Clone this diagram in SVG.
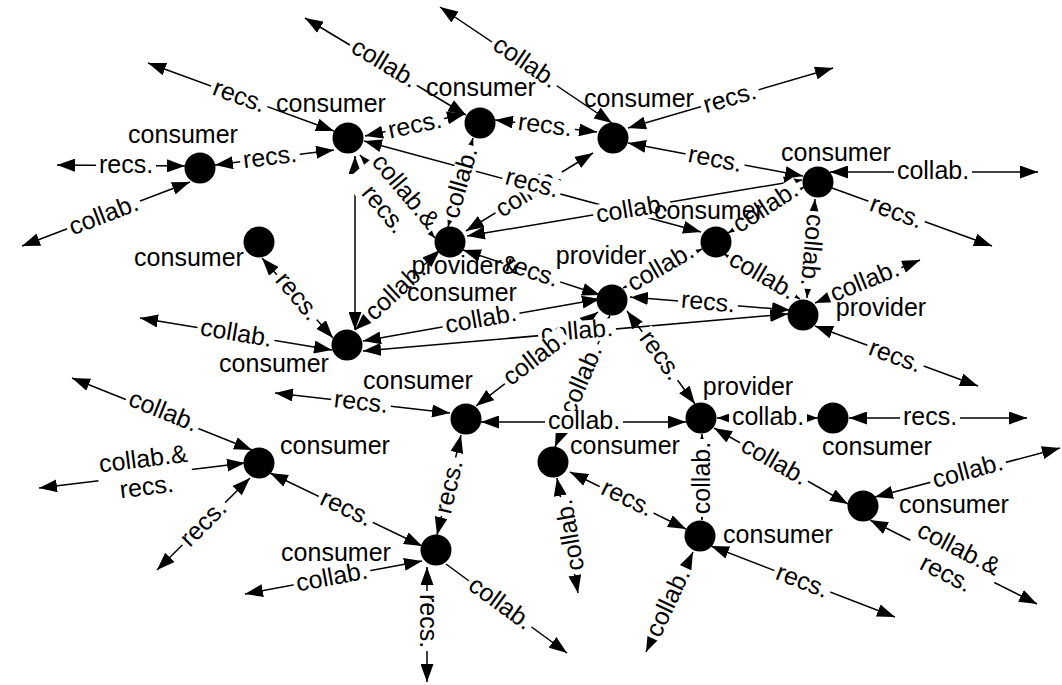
<svg xmlns="http://www.w3.org/2000/svg" xmlns:xlink="http://www.w3.org/1999/xlink" width="1062" height="685" viewBox="0 0 1062 685">
  <style>
    text { font-family: "Liberation Sans", Arial, sans-serif; font-size: 25px; fill: #000; }
    .lbl text { text-anchor: middle; }
    .node text { text-anchor: middle; }
    .node circle { fill: #000; }
    .e { stroke: #000; stroke-width: 1.5; fill: none; }
    .b { marker-start: url(#as); marker-end: url(#ae); }
    .s { marker-end: url(#ae); }
  </style>
  <defs>
    <marker id="ae" viewBox="0 0 18 13" refX="18" refY="6.5" markerWidth="18" markerHeight="13" markerUnits="userSpaceOnUse" orient="auto">
      <path d="M0,0 L18,6.5 L0,13 Z" fill="#000"/>
    </marker>
    <marker id="as" viewBox="0 0 18 13" refX="18" refY="6.5" markerWidth="18" markerHeight="13" markerUnits="userSpaceOnUse" orient="auto-start-reverse">
      <path d="M0,0 L18,6.5 L0,13 Z" fill="#000"/>
    </marker>
    <!-- white label backgrounds -->
    <rect id="br" x="-30" y="-11" width="60" height="22" fill="#fff"/>
    <rect id="bc" x="-39" y="-11" width="78" height="22" fill="#fff"/>
    <rect id="b2" x="-47" y="-26" width="94" height="52" fill="#fff"/>
  </defs>
  <rect width="1062" height="685" fill="#fff"/>

  <g id="connectors">
    <g id="edge-lines">
      <line class="e b" x1="57" y1="165" x2="185" y2="166"/>
      <line class="e b" x1="22" y1="246" x2="190" y2="182"/>
      <line class="e b" x1="215" y1="165" x2="334" y2="150"/>
      <line class="e b" x1="148" y1="63" x2="334" y2="131"/>
      <line class="e b" x1="365" y1="136" x2="465" y2="114"/>
      <line class="e b" x1="364" y1="141" x2="701" y2="232"/>
      <line class="e b" x1="355" y1="156" x2="355" y2="330"/>
      <line class="e b" x1="360" y1="155" x2="435" y2="238"/>
      <line class="e b" x1="305" y1="18" x2="466" y2="115"/>
      <line class="e b" x1="495" y1="120" x2="597" y2="132"/>
      <line class="e b" x1="448" y1="227" x2="473" y2="138"/>
      <line class="e b" x1="440" y1="7" x2="612" y2="123"/>
      <line class="e b" x1="628" y1="128" x2="833" y2="68"/>
      <line class="e b" x1="628" y1="143" x2="803" y2="176"/>
      <line class="e b" x1="466" y1="231" x2="593" y2="153"/>
      <line class="e b" x1="467" y1="236" x2="802" y2="180"/>
      <line class="e b" x1="830" y1="172" x2="1038" y2="172"/>
      <line class="e s" x1="832" y1="188" x2="992" y2="246"/>
      <line class="e b" x1="815" y1="199" x2="807" y2="298"/>
      <line class="e b" x1="728" y1="233" x2="804" y2="187"/>
      <line class="e b" x1="262" y1="258" x2="333" y2="338"/>
      <line class="e b" x1="463" y1="250" x2="600" y2="295"/>
      <line class="e b" x1="355" y1="330" x2="440" y2="250"/>
      <line class="e b" x1="623" y1="288" x2="702" y2="249"/>
      <line class="e b" x1="724" y1="254" x2="800" y2="299"/>
      <line class="e b" x1="630" y1="297" x2="790" y2="310"/>
      <line class="e b" x1="363" y1="341" x2="600" y2="299"/>
      <line class="e b" x1="363" y1="351" x2="788" y2="314"/>
      <line class="e b" x1="476" y1="406" x2="598" y2="312"/>
      <line class="e b" x1="555" y1="447" x2="610" y2="315"/>
      <line class="e b" x1="627" y1="311" x2="695" y2="404"/>
      <line class="e b" x1="815" y1="303" x2="920" y2="260"/>
      <line class="e b" x1="815" y1="326" x2="978" y2="386"/>
      <line class="e b" x1="140" y1="318" x2="332" y2="350"/>
      <line class="e b" x1="275" y1="393" x2="450" y2="413"/>
      <line class="e b" x1="481" y1="422" x2="686" y2="422"/>
      <line class="e b" x1="437" y1="535" x2="461" y2="435"/>
      <line class="e b" x1="717" y1="418" x2="818" y2="418"/>
      <line class="e b" x1="714" y1="428" x2="848" y2="504"/>
      <line class="e b" x1="702" y1="434" x2="702" y2="520"/>
      <line class="e b" x1="849" y1="418" x2="1027" y2="418"/>
      <line class="e b" x1="72" y1="378" x2="252" y2="450"/>
      <line class="e b" x1="39" y1="488" x2="245" y2="463"/>
      <line class="e b" x1="157" y1="570" x2="250" y2="478"/>
      <line class="e b" x1="270" y1="473" x2="422" y2="546"/>
      <line class="e b" x1="557" y1="478" x2="578" y2="593"/>
      <line class="e b" x1="570" y1="472" x2="686" y2="529"/>
      <line class="e b" x1="875" y1="497" x2="1060" y2="448"/>
      <line class="e b" x1="870" y1="520" x2="1037" y2="604"/>
      <line class="e b" x1="245" y1="594" x2="422" y2="561"/>
      <line class="e b" x1="427" y1="567" x2="427" y2="682"/>
      <line class="e s" x1="446" y1="564" x2="567" y2="653"/>
      <line class="e b" x1="646" y1="652" x2="693" y2="552"/>
      <line class="e b" x1="711" y1="546" x2="895" y2="617"/>
    </g>
    <g id="edge-labels" class="lbl">
      <g transform="translate(126,166)"><use href="#br"/><text y="7">recs.</text></g>
      <g transform="translate(104,216) rotate(-21)"><use href="#bc"/><text y="7">collab.</text></g>
      <g transform="translate(270,158) rotate(-7)"><use href="#br"/><text y="7">recs.</text></g>
      <g transform="translate(239,97) rotate(20)"><use href="#br"/><text y="7">recs.</text></g>
      <g transform="translate(415,126) rotate(-12)"><use href="#br"/><text y="7">recs.</text></g>
      <g transform="translate(394,201) rotate(50)"><use href="#b2"/><text y="-7">collab.&amp;</text><text y="21">recs.</text></g>
      <g transform="translate(384,64) rotate(31)"><use href="#bc"/><text y="7">collab.</text></g>
      <g transform="translate(545,126) rotate(7)"><use href="#br"/><text y="7">recs.</text></g>
      <g transform="translate(461,183) rotate(-74)"><use href="#bc"/><text y="7">collab.</text></g>
      <g transform="translate(525,63) rotate(34)"><use href="#bc"/><text y="7">collab.</text></g>
      <g transform="translate(730,99) rotate(-16)"><use href="#br"/><text y="7">recs.</text></g>
      <g transform="translate(715,160) rotate(11)"><use href="#br"/><text y="7">recs.</text></g>
      <g transform="translate(529,193) rotate(-32)"><use href="#bc"/><text y="7">collab.</text></g>
      <g transform="translate(532,184) rotate(15)"><use href="#br"/><text y="7">recs.</text></g>
      <g transform="translate(632,210) rotate(-9.5)"><use href="#bc"/><text y="7">collab.</text></g>
      <g transform="translate(933,172)"><use href="#bc"/><text y="7">collab.</text></g>
      <g transform="translate(896,213) rotate(20)"><use href="#br"/><text y="7">recs.</text></g>
      <g transform="translate(811,250) rotate(95)"><use href="#bc"/><text y="7">collab.</text></g>
      <g transform="translate(766,208) rotate(-33)"><use href="#bc"/><text y="7">collab.</text></g>
      <g transform="translate(297,297) rotate(50)"><use href="#br"/><text y="7">recs.</text></g>
      <g transform="translate(532,272) rotate(18)"><use href="#br"/><text y="7">recs.</text></g>
      <g transform="translate(396,292) rotate(-43)"><use href="#bc"/><text y="7">collab.</text></g>
      <g transform="translate(661,268) rotate(-30)"><use href="#bc"/><text y="7">collab.</text></g>
      <g transform="translate(762,276) rotate(30)"><use href="#bc"/><text y="7">collab.</text></g>
      <g transform="translate(708,303) rotate(5)"><use href="#br"/><text y="7">recs.</text></g>
      <g transform="translate(481,320) rotate(-10)"><use href="#bc"/><text y="7">collab.</text></g>
      <g transform="translate(577,332) rotate(-5)"><use href="#bc"/><text y="7">collab.</text></g>
      <g transform="translate(582,380) rotate(-67)"><use href="#bc"/><text y="7">collab.</text></g>
      <g transform="translate(535,359) rotate(-37.6)"><use href="#bc"/><text y="7">collab.</text></g>
      <g transform="translate(660,356) rotate(54)"><use href="#br"/><text y="7">recs.</text></g>
      <g transform="translate(865,282) rotate(-22)"><use href="#bc"/><text y="7">collab.</text></g>
      <g transform="translate(895,357) rotate(20)"><use href="#br"/><text y="7">recs.</text></g>
      <g transform="translate(236,334) rotate(9.5)"><use href="#bc"/><text y="7">collab.</text></g>
      <g transform="translate(361,403) rotate(6.5)"><use href="#br"/><text y="7">recs.</text></g>
      <g transform="translate(584,422)"><use href="#bc"/><text y="7">collab.</text></g>
      <g transform="translate(450,487) rotate(-77)"><use href="#br"/><text y="7">recs.</text></g>
      <g transform="translate(768,418)"><use href="#bc"/><text y="7">collab.</text></g>
      <g transform="translate(774,462) rotate(29.6)"><use href="#bc"/><text y="7">collab.</text></g>
      <g transform="translate(703,478) rotate(-90)"><use href="#bc"/><text y="7">collab.</text></g>
      <g transform="translate(930,418)"><use href="#br"/><text y="7">recs.</text></g>
      <g transform="translate(163,412) rotate(22)"><use href="#bc"/><text y="7">collab.</text></g>
      <g transform="translate(145,474) rotate(-7)"><use href="#b2"/><text y="-7">collab.&amp;</text><text y="21">recs.</text></g>
      <g transform="translate(204,524) rotate(-45)"><use href="#br"/><text y="7">recs.</text></g>
      <g transform="translate(346,509) rotate(25.5)"><use href="#br"/><text y="7">recs.</text></g>
      <g transform="translate(571,535) rotate(-100)"><use href="#bc"/><text y="7">collab.</text></g>
      <g transform="translate(627,499) rotate(26)"><use href="#br"/><text y="7">recs.</text></g>
      <g transform="translate(968,472) rotate(-15)"><use href="#bc"/><text y="7">collab.</text></g>
      <g transform="translate(952,562) rotate(27)"><use href="#b2"/><text y="-7">collab.&amp;</text><text y="21">recs.</text></g>
      <g transform="translate(332,578) rotate(-10.6)"><use href="#bc"/><text y="7">collab.</text></g>
      <g transform="translate(427,621) rotate(90)"><use href="#br"/><text y="7">recs.</text></g>
      <g transform="translate(500,604) rotate(36)"><use href="#bc"/><text y="7">collab.</text></g>
      <g transform="translate(669,603) rotate(-65)"><use href="#bc"/><text y="7">collab.</text></g>
      <g transform="translate(802,582) rotate(21)"><use href="#br"/><text y="7">recs.</text></g>
    </g>
  </g>

  <g id="nodes">
    <g id="n1" class="node"><circle cx="200" cy="168" r="15.5"/><text x="183" y="143">consumer</text></g>
    <g id="n2" class="node"><circle cx="348" cy="138" r="15.5"/><text x="331" y="112">consumer</text></g>
    <g id="n3" class="node"><circle cx="480" cy="123" r="15.5"/><text x="481" y="96">consumer</text></g>
    <g id="n4" class="node"><circle cx="613" cy="138" r="15.5"/><text x="639" y="107">consumer</text></g>
    <g id="n5" class="node"><circle cx="818" cy="182" r="15.5"/><text x="836" y="161">consumer</text></g>
    <g id="n6" class="node"><circle cx="259" cy="242" r="15.5"/><text x="189" y="266">consumer</text></g>
    <g id="n7" class="node"><circle cx="450" cy="242" r="15.5"/><text x="465" y="274">provider&amp;</text><text x="462" y="301">consumer</text></g>
    <g id="n8" class="node"><circle cx="716" cy="242" r="15.5"/><text x="709" y="219">consumer</text></g>
    <g id="n9" class="node"><circle cx="612" cy="300" r="15.5"/><text x="601" y="264">provider</text></g>
    <g id="n10" class="node"><circle cx="803" cy="315" r="15.5"/><text x="881" y="316">provider</text></g>
    <g id="n11" class="node"><circle cx="347" cy="345" r="15.5"/><text x="274" y="372">consumer</text></g>
    <g id="n12" class="node"><circle cx="466" cy="419" r="15.5"/><text x="418" y="389">consumer</text></g>
    <g id="n13" class="node"><circle cx="701" cy="418" r="15.5"/><text x="748" y="395">provider</text></g>
    <g id="n14" class="node"><circle cx="833" cy="418" r="15.5"/><text x="877" y="455">consumer</text></g>
    <g id="n15" class="node"><circle cx="259" cy="463" r="15.5"/><text x="335" y="454">consumer</text></g>
    <g id="n16" class="node"><circle cx="553" cy="462" r="15.5"/><text x="625" y="454">consumer</text></g>
    <g id="n17" class="node"><circle cx="863" cy="506" r="15.5"/><text x="954" y="513">consumer</text></g>
    <g id="n18" class="node"><circle cx="436" cy="550" r="15.5"/><text x="336" y="561">consumer</text></g>
    <g id="n19" class="node"><circle cx="700" cy="536" r="15.5"/><text x="778" y="543">consumer</text></g>
  </g>
</svg>
